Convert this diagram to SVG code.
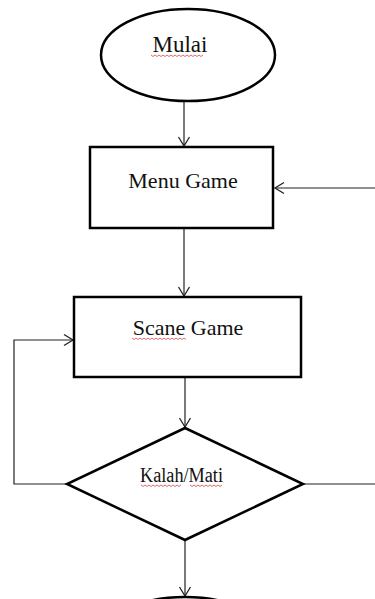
<svg xmlns="http://www.w3.org/2000/svg" width="375" height="599" viewBox="0 0 375 599">
<style>
.shape{fill:#fff;stroke:#000;stroke-width:2.5}
.conn{fill:none;stroke:#222;stroke-width:1.2}
.lbl{font-family:"Liberation Serif","Times New Roman",serif;fill:#111;text-anchor:middle}
.sq{fill:none;stroke:#d03030;stroke-width:0.9;opacity:0.8}
</style>
<defs>
<marker id="arr" markerUnits="userSpaceOnUse" markerWidth="12" markerHeight="14" refX="10" refY="6" orient="auto" viewBox="0 0 12 12">
<path d="M1,0.5 L10,6 L1,11.5" fill="none" stroke="#222" stroke-width="1.3"/>
</marker>
</defs>
<rect width="375" height="599" fill="#fff"/>
<g id="connectors">
<path class="conn" d="M184,101 L184,146" marker-end="url(#arr)"/>
<path class="conn" d="M184,229 L184,296" marker-end="url(#arr)"/>
<path class="conn" d="M185,378 L185,427" marker-end="url(#arr)"/>
<path class="conn" d="M185,541 L185,596" marker-end="url(#arr)"/>
<path class="conn" d="M67,484 L14,484 L14,340 L73,340" marker-end="url(#arr)"/>
<path class="conn" d="M303,484 L376,484"/>
<path class="conn" d="M376,188 L275,188" marker-end="url(#arr)"/>
</g>
<g id="mulai">
<ellipse class="shape" cx="188" cy="55" rx="87" ry="46"/>
<text class="lbl" x="180" y="52" font-size="23">Mulai</text>
<path class="sq" d="M151,55 l2,1.5 l2,-1.5 l2,1.5 l2,-1.5 l2,1.5 l2,-1.5 l2,1.5 l2,-1.5 l2,1.5 l2,-1.5 l2,1.5 l2,-1.5 l2,1.5 l2,-1.5 l2,1.5 l2,-1.5 l2,1.5 l2,-1.5 l2,1.5 l2,-1.5 l2,1.5 l2,-1.5 l2,1.5 l2,-1.5 l2,1.5 l2,-1.5"/>
</g>
<g id="menu-game">
<rect class="shape" x="90" y="147" width="183" height="81"/>
<text class="lbl" x="183" y="188" font-size="22">Menu Game</text>
</g>
<g id="scane-game">
<rect class="shape" x="74" y="297" width="227" height="80"/>
<text class="lbl" x="188" y="335" font-size="22">Scane Game</text>
<path class="sq" d="M132,338 l2,1.5 l2,-1.5 l2,1.5 l2,-1.5 l2,1.5 l2,-1.5 l2,1.5 l2,-1.5 l2,1.5 l2,-1.5 l2,1.5 l2,-1.5 l2,1.5 l2,-1.5 l2,1.5 l2,-1.5 l2,1.5 l2,-1.5 l2,1.5 l2,-1.5 l2,1.5 l2,-1.5 l2,1.5 l2,-1.5 l2,1.5 l2,-1.5 l2,1.5"/>
</g>
<g id="kalah-mati">
<polygon class="shape" points="185,428 303,484 185,540 67,484"/>
<text class="lbl" x="181.5" y="482" font-size="20" textLength="83" lengthAdjust="spacingAndGlyphs">Kalah/Mati</text>
<path class="sq" d="M141,485 l2,1.5 l2,-1.5 l2,1.5 l2,-1.5 l2,1.5 l2,-1.5 l2,1.5 l2,-1.5 l2,1.5 l2,-1.5 l2,1.5 l2,-1.5 l2,1.5 l2,-1.5 l2,1.5 l2,-1.5 l2,1.5 l2,-1.5 l2,1.5 l2,-1.5"/>
<path class="sq" d="M190,485 l2,1.5 l2,-1.5 l2,1.5 l2,-1.5 l2,1.5 l2,-1.5 l2,1.5 l2,-1.5 l2,1.5 l2,-1.5 l2,1.5 l2,-1.5 l2,1.5 l2,-1.5 l2,1.5 l2,-1.5"/>
</g>
<g id="selesai">
<ellipse class="shape" cx="185" cy="643" rx="87" ry="46"/>
</g>
</svg>
